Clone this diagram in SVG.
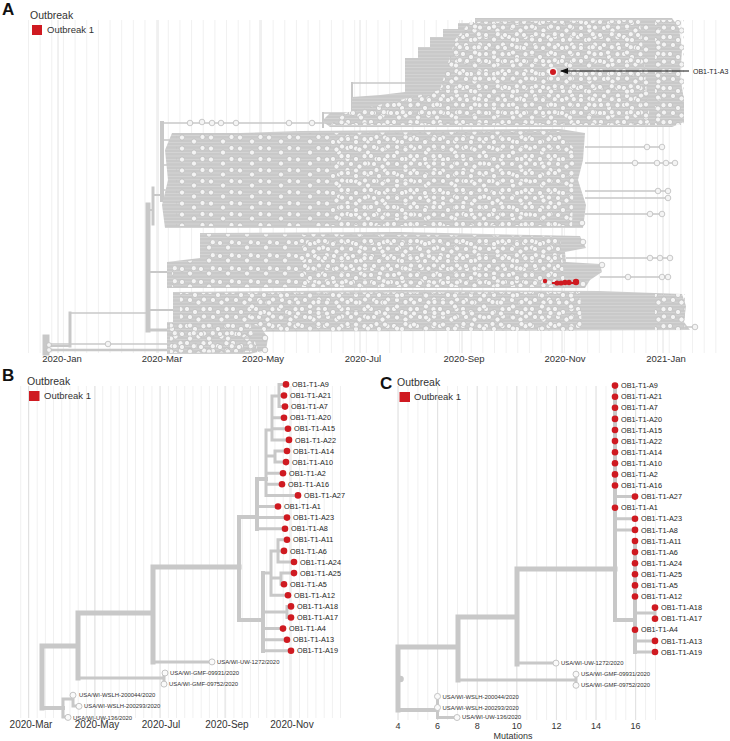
<svg xmlns="http://www.w3.org/2000/svg" width="730" height="741" viewBox="0 0 730 741">
<style>
text{font-family:"Liberation Sans",Arial,Helvetica,sans-serif;fill:#1e1e1e}
.ttl{font-size:10.5px;fill:#333}
.leg{font-size:9.5px;fill:#333}
.pl{font-size:17px;font-weight:bold;fill:#111}
.ax{font-size:10px;fill:#333;text-anchor:middle}
.axC{font-size:9px;fill:#333;text-anchor:middle}
.axA{font-size:9.5px;fill:#333;text-anchor:middle}
.lb{font-size:7.3px}
.ls{font-size:5.9px;fill:#333}
.maj{stroke:#e2e2e2;stroke-width:1}
.br{stroke:#c8c8c8;fill:none;stroke-linecap:square}
.b5{stroke-width:5}
.b4{stroke-width:4}
.b3{stroke-width:3}
.rd{fill:#cf1a21}
.oc{fill:#fafafa;stroke:#c4c4c4;stroke-width:1}
.ac{fill:#f4f4f4;stroke:#bdbdbd;stroke-width:0.8}
.al{stroke:#c8c8c8;stroke-width:1.3;fill:none}
</style>
<defs>
<pattern id="gA" patternUnits="userSpaceOnUse" x="28" y="0" width="11.65" height="10"><rect width="0.8" height="10" fill="#ededed"/></pattern>
<pattern id="gB" patternUnits="userSpaceOnUse" x="20.3" y="0" width="8.2" height="10"><rect width="0.8" height="10" fill="#ededed"/></pattern>
<pattern id="gC" patternUnits="userSpaceOnUse" x="397.6" y="0" width="9.9" height="10"><rect width="0.8" height="10" fill="#ededed"/></pattern>
<pattern id="hl" patternUnits="userSpaceOnUse" width="10" height="3.4"><rect width="10" height="3.4" fill="#c9c9c9"/><rect y="2.7" width="10" height="0.5" fill="#dedede"/></pattern>
<pattern id="d4" patternUnits="userSpaceOnUse" width="23" height="17"><circle cx="3" cy="3" r="2.6" class="ac"/><circle cx="11" cy="6" r="2.6" class="ac"/><circle cx="19.5" cy="3.2" r="2.6" class="ac"/><circle cx="6" cy="11" r="2.6" class="ac"/><circle cx="14.5" cy="13.5" r="2.6" class="ac"/><circle cx="20" cy="10.5" r="2.6" class="ac"/></pattern>
<pattern id="d5" patternUnits="userSpaceOnUse" x="7" y="5" width="19" height="13"><circle cx="4" cy="4" r="2.6" class="ac"/><circle cx="12" cy="8.5" r="2.6" class="ac"/><circle cx="15.8" cy="3.2" r="2.6" class="ac"/></pattern>
<pattern id="d6" patternUnits="userSpaceOnUse" x="3" y="2" width="29" height="11"><circle cx="5" cy="3.5" r="2.6" class="ac"/><circle cx="17" cy="7.5" r="2.6" class="ac"/><circle cx="25.5" cy="3" r="2.6" class="ac"/></pattern>
<marker id="arr" markerUnits="userSpaceOnUse" markerWidth="8" markerHeight="6" refX="7" refY="3" orient="auto"><path d="M0,0 L8,3 L0,6 Z" fill="#111"/></marker>
</defs>
<rect width="730" height="741" fill="#ffffff"/>

<!-- ================= PANEL A ================= -->
<g id="panelA">
<rect x="28" y="20" width="692" height="333" fill="url(#gA)"/>
<g class="maj">
<line x1="58" y1="20" x2="58" y2="353"/><line x1="158" y1="20" x2="158" y2="353"/><line x1="260" y1="20" x2="260" y2="353"/><line x1="360" y1="20" x2="360" y2="353"/><line x1="462" y1="20" x2="462" y2="353"/><line x1="562" y1="20" x2="562" y2="353"/><line x1="663" y1="20" x2="663" y2="353"/>
</g>
<text class="pl" x="2" y="15">A</text>
<text class="ttl" x="30" y="19">Outbreak</text>
<rect x="32" y="25" width="10" height="10" class="rd"/>
<text class="leg" x="47" y="33">Outbreak 1</text>
<!-- skeleton -->
<g class="br">
<path d="M46,338 V352" stroke-width="7"/>
<path d="M46,346 H70" stroke-width="2"/>
<path d="M70,313 V346" stroke-width="3"/>
<path d="M70,313 H148" stroke-width="1.5"/>
<path d="M50,344 H173" stroke-width="1.5"/>
<path d="M50,350 H170" stroke-width="2.5"/>
<path d="M148,205 V330" stroke-width="5"/>
<path d="M153,188 V224" stroke-width="3"/>
<path d="M162,123 V200" stroke-width="4"/>
<path d="M148,210 H153 M153,195 H162" stroke-width="2"/>
<path d="M148,272 H168 M148,310 H174" stroke-width="2"/>
<path d="M148,330 H168" stroke-width="3"/>
<path d="M162,140 H172 M162,165 H168 M162,190 H165" stroke-width="1.5"/>
<path d="M162,123 H330" stroke-width="1.3"/>
<path d="M323,113 V127" stroke-width="2"/>
<path d="M323,113 H352" stroke-width="1.5"/>
<path d="M352,83 V113" stroke-width="2"/>
<path d="M352,83 H405" stroke-width="1.5"/>
</g>
<!-- clusters -->
<path d="M405,92 L405,58 L418,58 L418,47 L430,47 L430,37 L443,37 L443,29 L458,29 L458,23 L475,23 L475,18 L672,18 L679,28 L682,50 L680,75 L684,100 L684,122 L672,127 L330,127 L322,121 L330,113 L352,113 L352,97 L380,95 Z" fill="url(#hl)"/>
<path d="M470,22 L640,20 L650,125 L330,125 L345,113 L400,100 L440,90 L455,40 Z" fill="url(#d4)"/>
<path d="M470,22 L640,20 L650,125 L330,125 L345,113 L400,100 L440,90 L455,40 Z" fill="url(#d5)"/>
<rect x="655" y="20" width="29" height="105" fill="url(#d4)"/>
<rect x="640" y="20" width="20" height="105" fill="url(#d6)"/>
<path d="M172,133 L240,133 L300,131 L420,130 L560,129 L585,133 L583,160 L578,180 L586,205 L583,228 L165,228 L162,205 L168,180 L165,150 Z" fill="url(#hl)"/>
<path d="M176,134 L560,131 L575,150 L572,226 L176,226 Z" fill="url(#d6)"/>
<path d="M330,133 L560,131 L575,150 L572,226 L330,226 Z" fill="url(#d4)"/>
<path d="M200,233 L400,232 L580,236 L586,248 L565,252 L566,262 L600,264 L602,272 L590,280 L585,288 L167,288 L167,262 L200,258 Z" fill="url(#hl)"/>
<path d="M205,234 L560,236 L565,287 L172,287 L172,263 L205,259 Z" fill="url(#d5)"/>
<path d="M300,234 L560,236 L565,287 L300,287 Z" fill="url(#d4)"/>
<path d="M173,292 L400,290 L600,291 L682,294 L686,306 L684,322 L690,330 L173,332 Z" fill="url(#hl)"/>
<path d="M180,293 L580,292 L582,331 L180,331 Z" fill="url(#d4)"/>
<path d="M250,293 L580,292 L582,331 L250,331 Z" fill="url(#d6)"/>
<rect x="655" y="294" width="30" height="36" fill="url(#d4)"/>
<path d="M167,322 L238,322 L260,326 L268,338 L266,350 L250,354 L167,354 Z" fill="url(#hl)"/>
<path d="M170,323 L250,324 L258,352 L170,353 Z" fill="url(#d4)"/>
<path d="M170,323 L250,324 L258,352 L170,353 Z" fill="url(#d5)"/>
<!-- long lines -->
<path class="al" d="M585,147 H662 M585,163 H675 M585,191 H668 M585,198 H668 M585,214 H662 M566,258 H670 M600,277 H668 M686,327 H695 M240,338 H265 M240,350 H265"/>
<g class="ac">
<circle cx="647" cy="147" r="2.8"/><circle cx="662" cy="147" r="2.8"/>
<circle cx="635" cy="163" r="2.8"/><circle cx="657" cy="163" r="2.8"/><circle cx="666" cy="163" r="2.8"/><circle cx="675" cy="163" r="2.8"/>
<circle cx="658" cy="191" r="2.8"/><circle cx="668" cy="191" r="2.8"/><circle cx="668" cy="198" r="2.8"/>
<circle cx="650" cy="214" r="2.8"/><circle cx="662" cy="214" r="2.8"/>
<circle cx="582" cy="223" r="2.8"/><circle cx="583" cy="242" r="2.8"/>
<circle cx="650" cy="258" r="2.8"/><circle cx="660" cy="258" r="2.8"/><circle cx="670" cy="258" r="2.8"/>
<circle cx="602" cy="265" r="2.8"/>
<circle cx="628" cy="277" r="2.8"/><circle cx="662" cy="277" r="2.8"/><circle cx="668" cy="277" r="2.8"/>
<circle cx="583" cy="284" r="2.8"/>
<circle cx="695" cy="327" r="2.8"/>
<circle cx="265" cy="338" r="2.8"/><circle cx="265" cy="350" r="2.8"/>
<circle cx="108" cy="344" r="2.8"/><circle cx="49" cy="345" r="2.4"/><circle cx="49" cy="350" r="2.4"/>
<circle cx="190" cy="123" r="2.8"/><circle cx="202" cy="122" r="2.8"/><circle cx="212" cy="123" r="2.8"/><circle cx="221" cy="123" r="2.8"/><circle cx="236" cy="123" r="2.8"/><circle cx="289" cy="123" r="2.8"/><circle cx="312" cy="123" r="2.8"/>
</g>
<!-- outbreak samples in A -->
<circle cx="553" cy="72" r="4.6" fill="#ffffff" opacity="0.8"/>
<circle cx="553" cy="72" r="3" class="rd"/>
<circle cx="545" cy="281" r="2.2" class="rd"/>
<path d="M552,283 H576" stroke="#cf1a21" stroke-width="2"/>
<circle cx="557" cy="283" r="2.6" class="rd"/><circle cx="561" cy="283" r="2.6" class="rd"/><circle cx="565" cy="282.5" r="2.7" class="rd"/><circle cx="569" cy="282.5" r="2.7" class="rd"/><circle cx="576" cy="282" r="3.2" class="rd"/>
<line x1="689" y1="71" x2="561" y2="71" stroke="#111" stroke-width="1" marker-end="url(#arr)"/>
<text x="693" y="74" style="font-size:7px">OB1-T1-A3</text>
<text class="axA" x="62" y="362">2020-Jan</text>
<text class="axA" x="162" y="362">2020-Mar</text>
<text class="axA" x="263" y="362">2020-May</text>
<text class="axA" x="363" y="362">2020-Jul</text>
<text class="axA" x="464" y="362">2020-Sep</text>
<text class="axA" x="565" y="362">2020-Nov</text>
<text class="axA" x="666" y="362">2021-Jan</text>
</g>

<!-- ================= PANEL B ================= -->
<g id="panelB-frame">
<rect x="20" y="386" width="322" height="332" fill="url(#gB)"/>
<g class="maj">
<line x1="28.5" y1="386" x2="28.5" y2="718"/><line x1="95" y1="386" x2="95" y2="718"/><line x1="160" y1="386" x2="160" y2="718"/><line x1="225" y1="386" x2="225" y2="718"/><line x1="290" y1="386" x2="290" y2="718"/>
</g>
<text class="pl" x="2" y="381">B</text>
<text class="ttl" x="27" y="385">Outbreak</text>
<rect x="29" y="391" width="10.5" height="10" class="rd"/>
<text class="leg" x="44" y="399">Outbreak 1</text>
<text class="ax" x="31" y="728">2020-Mar</text>
<text class="ax" x="97" y="728">2020-May</text>
<text class="ax" x="161" y="728">2020-Jul</text>
<text class="ax" x="227" y="728">2020-Sep</text>
<text class="ax" x="292" y="728">2020-Nov</text>
</g>
<g id="connectorsB" class="br">
<path class="b5" d="M42,646 V708 M42,646 H78 M78,613 V678 M78,613 H153 M153,567 V662 M153,567 H239"/>
<path class="b4" d="M239,517 V620 M239,517 H257 M257,479 V529 M257,479 H266 M239,620 H263 M263,573 V651 M42,708 H63"/>
<path class="b3" d="M153,662 H212 M78,678 H164 M164,673 V684 M63,699 V717 M63,699 H73 M73,695 V706 M73,706 H79 M63,717 H68"/>
<path class="b3" d="M257,528.7 H285 M257,517.6 H287 M257,506.5 H278 M266,430 V495.4 M266,495.4 H298 M266,484.3 H282 M266,473.2 H283 M266,456 H275 M275,451 V462 M275,451 H287 M275,462.1 H286 M266,430 H272 M272,396 V440 M272,439.9 H289 M272,428.8 H288 M272,417.7 H284 M272,396 H279 M279,384.4 V406.6 M279,384.4 H286 M279,395.5 H284 M279,406.6 H285"/>
<path class="b3" d="M263,573 H271 M271,551 V595.3 M271,551 H278 M278,539.8 V562 M278,539.8 H287 M278,550.9 H284 M278,562 H294 M271,578 H281 M281,573.1 V584.2 M281,573.1 H294 M281,584.2 H284 M271,595.3 H288 M263,612 H287 M287,606.4 V617.5 M287,606.4 H291 M287,617.5 H291 M263,628.6 H283 M263,639.7 H287 M263,650.8 H291"/>
</g>
<g id="b-A9"><circle class="rd" cx="286" cy="384.4" r="3.3"/><text class="lb" x="292" y="387">OB1-T1-A9</text></g>
<g id="b-A21"><circle class="rd" cx="284" cy="395.5" r="3.3"/><text class="lb" x="290" y="398.1">OB1-T1-A21</text></g>
<g id="b-A7"><circle class="rd" cx="285" cy="406.6" r="3.3"/><text class="lb" x="291" y="409.2">OB1-T1-A7</text></g>
<g id="b-A20"><circle class="rd" cx="284" cy="417.7" r="3.3"/><text class="lb" x="290" y="420.3">OB1-T1-A20</text></g>
<g id="b-A15"><circle class="rd" cx="288" cy="428.8" r="3.3"/><text class="lb" x="294" y="431.4">OB1-T1-A15</text></g>
<g id="b-A22"><circle class="rd" cx="289" cy="439.9" r="3.3"/><text class="lb" x="295" y="442.5">OB1-T1-A22</text></g>
<g id="b-A14"><circle class="rd" cx="287" cy="451" r="3.3"/><text class="lb" x="293" y="453.6">OB1-T1-A14</text></g>
<g id="b-A10"><circle class="rd" cx="286" cy="462.1" r="3.3"/><text class="lb" x="292" y="464.7">OB1-T1-A10</text></g>
<g id="b-A2"><circle class="rd" cx="283" cy="473.2" r="3.3"/><text class="lb" x="289" y="475.8">OB1-T1-A2</text></g>
<g id="b-A16"><circle class="rd" cx="282" cy="484.3" r="3.3"/><text class="lb" x="288" y="486.9">OB1-T1-A16</text></g>
<g id="b-A27"><circle class="rd" cx="298" cy="495.4" r="3.3"/><text class="lb" x="304" y="498">OB1-T1-A27</text></g>
<g id="b-A1"><circle class="rd" cx="278" cy="506.5" r="3.3"/><text class="lb" x="284" y="509.1">OB1-T1-A1</text></g>
<g id="b-A23"><circle class="rd" cx="287" cy="517.6" r="3.3"/><text class="lb" x="293" y="520.2">OB1-T1-A23</text></g>
<g id="b-A8"><circle class="rd" cx="285" cy="528.7" r="3.3"/><text class="lb" x="291" y="531.3">OB1-T1-A8</text></g>
<g id="b-A11"><circle class="rd" cx="287" cy="539.8" r="3.3"/><text class="lb" x="293" y="542.4">OB1-T1-A11</text></g>
<g id="b-A6"><circle class="rd" cx="284" cy="550.9" r="3.3"/><text class="lb" x="290" y="553.5">OB1-T1-A6</text></g>
<g id="b-A24"><circle class="rd" cx="294" cy="562" r="3.3"/><text class="lb" x="300" y="564.6">OB1-T1-A24</text></g>
<g id="b-A25"><circle class="rd" cx="294" cy="573.1" r="3.3"/><text class="lb" x="300" y="575.7">OB1-T1-A25</text></g>
<g id="b-A5"><circle class="rd" cx="284" cy="584.2" r="3.3"/><text class="lb" x="290" y="586.8">OB1-T1-A5</text></g>
<g id="b-A12"><circle class="rd" cx="288" cy="595.3" r="3.3"/><text class="lb" x="294" y="597.9">OB1-T1-A12</text></g>
<g id="b-A18"><circle class="rd" cx="291" cy="606.4" r="3.3"/><text class="lb" x="297" y="609">OB1-T1-A18</text></g>
<g id="b-A17"><circle class="rd" cx="291" cy="617.5" r="3.3"/><text class="lb" x="297" y="620.1">OB1-T1-A17</text></g>
<g id="b-A4"><circle class="rd" cx="283" cy="628.6" r="3.3"/><text class="lb" x="289" y="631.2">OB1-T1-A4</text></g>
<g id="b-A13"><circle class="rd" cx="287" cy="639.7" r="3.3"/><text class="lb" x="293" y="642.3">OB1-T1-A13</text></g>
<g id="b-A19"><circle class="rd" cx="291" cy="650.8" r="3.3"/><text class="lb" x="297" y="653.4">OB1-T1-A19</text></g>
<g id="b-UW1272"><circle class="oc" cx="212" cy="661.9" r="3"/><text class="ls" x="217" y="664">USA/WI-UW-1272/2020</text></g>
<g id="b-GMF09931"><circle class="oc" cx="165" cy="673" r="3"/><text class="ls" x="170" y="675.1">USA/WI-GMF-09931/2020</text></g>
<g id="b-GMF09752"><circle class="oc" cx="164" cy="684.1" r="3"/><text class="ls" x="169" y="686.2">USA/WI-GMF-09752/2020</text></g>
<g id="b-WSLH200044"><circle class="oc" cx="73" cy="695.2" r="3"/><text class="ls" x="79" y="697.3">USA/WI-WSLH-200044/2020</text></g>
<g id="b-WSLH200293"><circle class="oc" cx="79" cy="706.3" r="3"/><text class="ls" x="84" y="708.4">USA/WI-WSLH-200293/2020</text></g>
<g id="b-UW136"><circle class="oc" cx="68" cy="717.4" r="3"/><text class="ls" x="73" y="719.5">USA/WI-UW-136/2020</text></g>

<!-- ================= PANEL C ================= -->
<g id="panelC-frame">
<rect x="397" y="386" width="263" height="334" fill="url(#gC)"/>
<g class="maj">
<line x1="398" y1="386" x2="398" y2="720"/><line x1="437.6" y1="386" x2="437.6" y2="720"/><line x1="477.2" y1="386" x2="477.2" y2="720"/><line x1="516.8" y1="386" x2="516.8" y2="720"/><line x1="556.4" y1="386" x2="556.4" y2="720"/><line x1="596" y1="386" x2="596" y2="720"/><line x1="635.6" y1="386" x2="635.6" y2="720"/>
</g>
<text class="pl" x="380" y="389">C</text>
<text class="ttl" x="397" y="386">Outbreak</text>
<rect x="399.5" y="392" width="10.5" height="10" class="rd"/>
<text class="leg" x="414" y="400">Outbreak 1</text>
<text class="axC" x="398" y="728.5">4</text>
<text class="axC" x="437.6" y="728.5">6</text>
<text class="axC" x="477.2" y="728.5">8</text>
<text class="axC" x="516.8" y="728.5">10</text>
<text class="axC" x="556.4" y="728.5">12</text>
<text class="axC" x="596" y="728.5">14</text>
<text class="axC" x="635.6" y="728.5">16</text>
<text class="axC" x="513" y="738.8">Mutations</text>
</g>
<g id="connectorsC" class="br">
<path class="b5" d="M398,647 V710 M398,647 H458 M458,617 V680 M458,617 H517 M517,569 V664 M517,569 H615"/>
<path class="b4" d="M615,385.6 V620 M615,620 H635 M635,541 V652 M398,710 H437.5"/>
<path class="b3" d="M615,496.6 H635 M615,518.8 H635 M615,529.9 H635 M635,613 H655 M655,607.6 V618.7 M635,640.9 H655 M635,652 H655 M517,663.1 H556 M458,680 H576 M576,674.2 V685.3 M437.5,696.4 V717.5 M437.5,717.5 H457"/>
</g>
<g id="c-root"><circle cx="400.5" cy="679" r="3.3" fill="#c8c8c8"/></g>
<g id="c-A9"><circle class="rd" cx="615" cy="385.6" r="3.3"/><text class="lb" x="621" y="388.2">OB1-T1-A9</text></g>
<g id="c-A21"><circle class="rd" cx="615" cy="396.7" r="3.3"/><text class="lb" x="621" y="399.3">OB1-T1-A21</text></g>
<g id="c-A7"><circle class="rd" cx="615" cy="407.8" r="3.3"/><text class="lb" x="621" y="410.4">OB1-T1-A7</text></g>
<g id="c-A20"><circle class="rd" cx="615" cy="418.9" r="3.3"/><text class="lb" x="621" y="421.5">OB1-T1-A20</text></g>
<g id="c-A15"><circle class="rd" cx="615" cy="430" r="3.3"/><text class="lb" x="621" y="432.6">OB1-T1-A15</text></g>
<g id="c-A22"><circle class="rd" cx="615" cy="441.1" r="3.3"/><text class="lb" x="621" y="443.7">OB1-T1-A22</text></g>
<g id="c-A14"><circle class="rd" cx="615" cy="452.2" r="3.3"/><text class="lb" x="621" y="454.8">OB1-T1-A14</text></g>
<g id="c-A10"><circle class="rd" cx="615" cy="463.3" r="3.3"/><text class="lb" x="621" y="465.9">OB1-T1-A10</text></g>
<g id="c-A2"><circle class="rd" cx="615" cy="474.4" r="3.3"/><text class="lb" x="621" y="477">OB1-T1-A2</text></g>
<g id="c-A16"><circle class="rd" cx="615" cy="485.5" r="3.3"/><text class="lb" x="621" y="488.1">OB1-T1-A16</text></g>
<g id="c-A27"><circle class="rd" cx="635" cy="496.6" r="3.3"/><text class="lb" x="641" y="499.2">OB1-T1-A27</text></g>
<g id="c-A1"><circle class="rd" cx="615" cy="507.7" r="3.3"/><text class="lb" x="621" y="510.3">OB1-T1-A1</text></g>
<g id="c-A23"><circle class="rd" cx="635" cy="518.8" r="3.3"/><text class="lb" x="641" y="521.4">OB1-T1-A23</text></g>
<g id="c-A8"><circle class="rd" cx="635" cy="529.9" r="3.3"/><text class="lb" x="641" y="532.5">OB1-T1-A8</text></g>
<g id="c-A11"><circle class="rd" cx="635" cy="541" r="3.3"/><text class="lb" x="641" y="543.6">OB1-T1-A11</text></g>
<g id="c-A6"><circle class="rd" cx="635" cy="552.1" r="3.3"/><text class="lb" x="641" y="554.7">OB1-T1-A6</text></g>
<g id="c-A24"><circle class="rd" cx="635" cy="563.2" r="3.3"/><text class="lb" x="641" y="565.8">OB1-T1-A24</text></g>
<g id="c-A25"><circle class="rd" cx="635" cy="574.3" r="3.3"/><text class="lb" x="641" y="576.9">OB1-T1-A25</text></g>
<g id="c-A5"><circle class="rd" cx="635" cy="585.4" r="3.3"/><text class="lb" x="641" y="588">OB1-T1-A5</text></g>
<g id="c-A12"><circle class="rd" cx="635" cy="596.5" r="3.3"/><text class="lb" x="641" y="599.1">OB1-T1-A12</text></g>
<g id="c-A18"><circle class="rd" cx="655" cy="607.6" r="3.3"/><text class="lb" x="661" y="610.2">OB1-T1-A18</text></g>
<g id="c-A17"><circle class="rd" cx="655" cy="618.7" r="3.3"/><text class="lb" x="661" y="621.3">OB1-T1-A17</text></g>
<g id="c-A4"><circle class="rd" cx="635" cy="629.8" r="3.3"/><text class="lb" x="641" y="632.4">OB1-T1-A4</text></g>
<g id="c-A13"><circle class="rd" cx="655" cy="640.9" r="3.3"/><text class="lb" x="661" y="643.5">OB1-T1-A13</text></g>
<g id="c-A19"><circle class="rd" cx="655" cy="652" r="3.3"/><text class="lb" x="661" y="654.6">OB1-T1-A19</text></g>
<g id="c-UW1272"><circle class="oc" cx="556" cy="663.1" r="3"/><text class="ls" x="561" y="665.2">USA/WI-UW-1272/2020</text></g>
<g id="c-GMF09931"><circle class="oc" cx="576" cy="674.2" r="3"/><text class="ls" x="581" y="676.3">USA/WI-GMF-09931/2020</text></g>
<g id="c-GMF09752"><circle class="oc" cx="576" cy="685.3" r="3"/><text class="ls" x="581" y="687.4">USA/WI-GMF-09752/2020</text></g>
<g id="c-WSLH200044"><circle class="oc" cx="437.5" cy="696.4" r="3"/><text class="ls" x="442.5" y="698.5">USA/WI-WSLH-200044/2020</text></g>
<g id="c-WSLH200293"><circle class="oc" cx="437.5" cy="707.5" r="3"/><text class="ls" x="442.5" y="709.6">USA/WI-WSLH-200293/2020</text></g>
<g id="c-UW136"><circle class="oc" cx="457" cy="717.5" r="3"/><text class="ls" x="462" y="719">USA/WI-UW-136/2020</text></g>
</svg>
